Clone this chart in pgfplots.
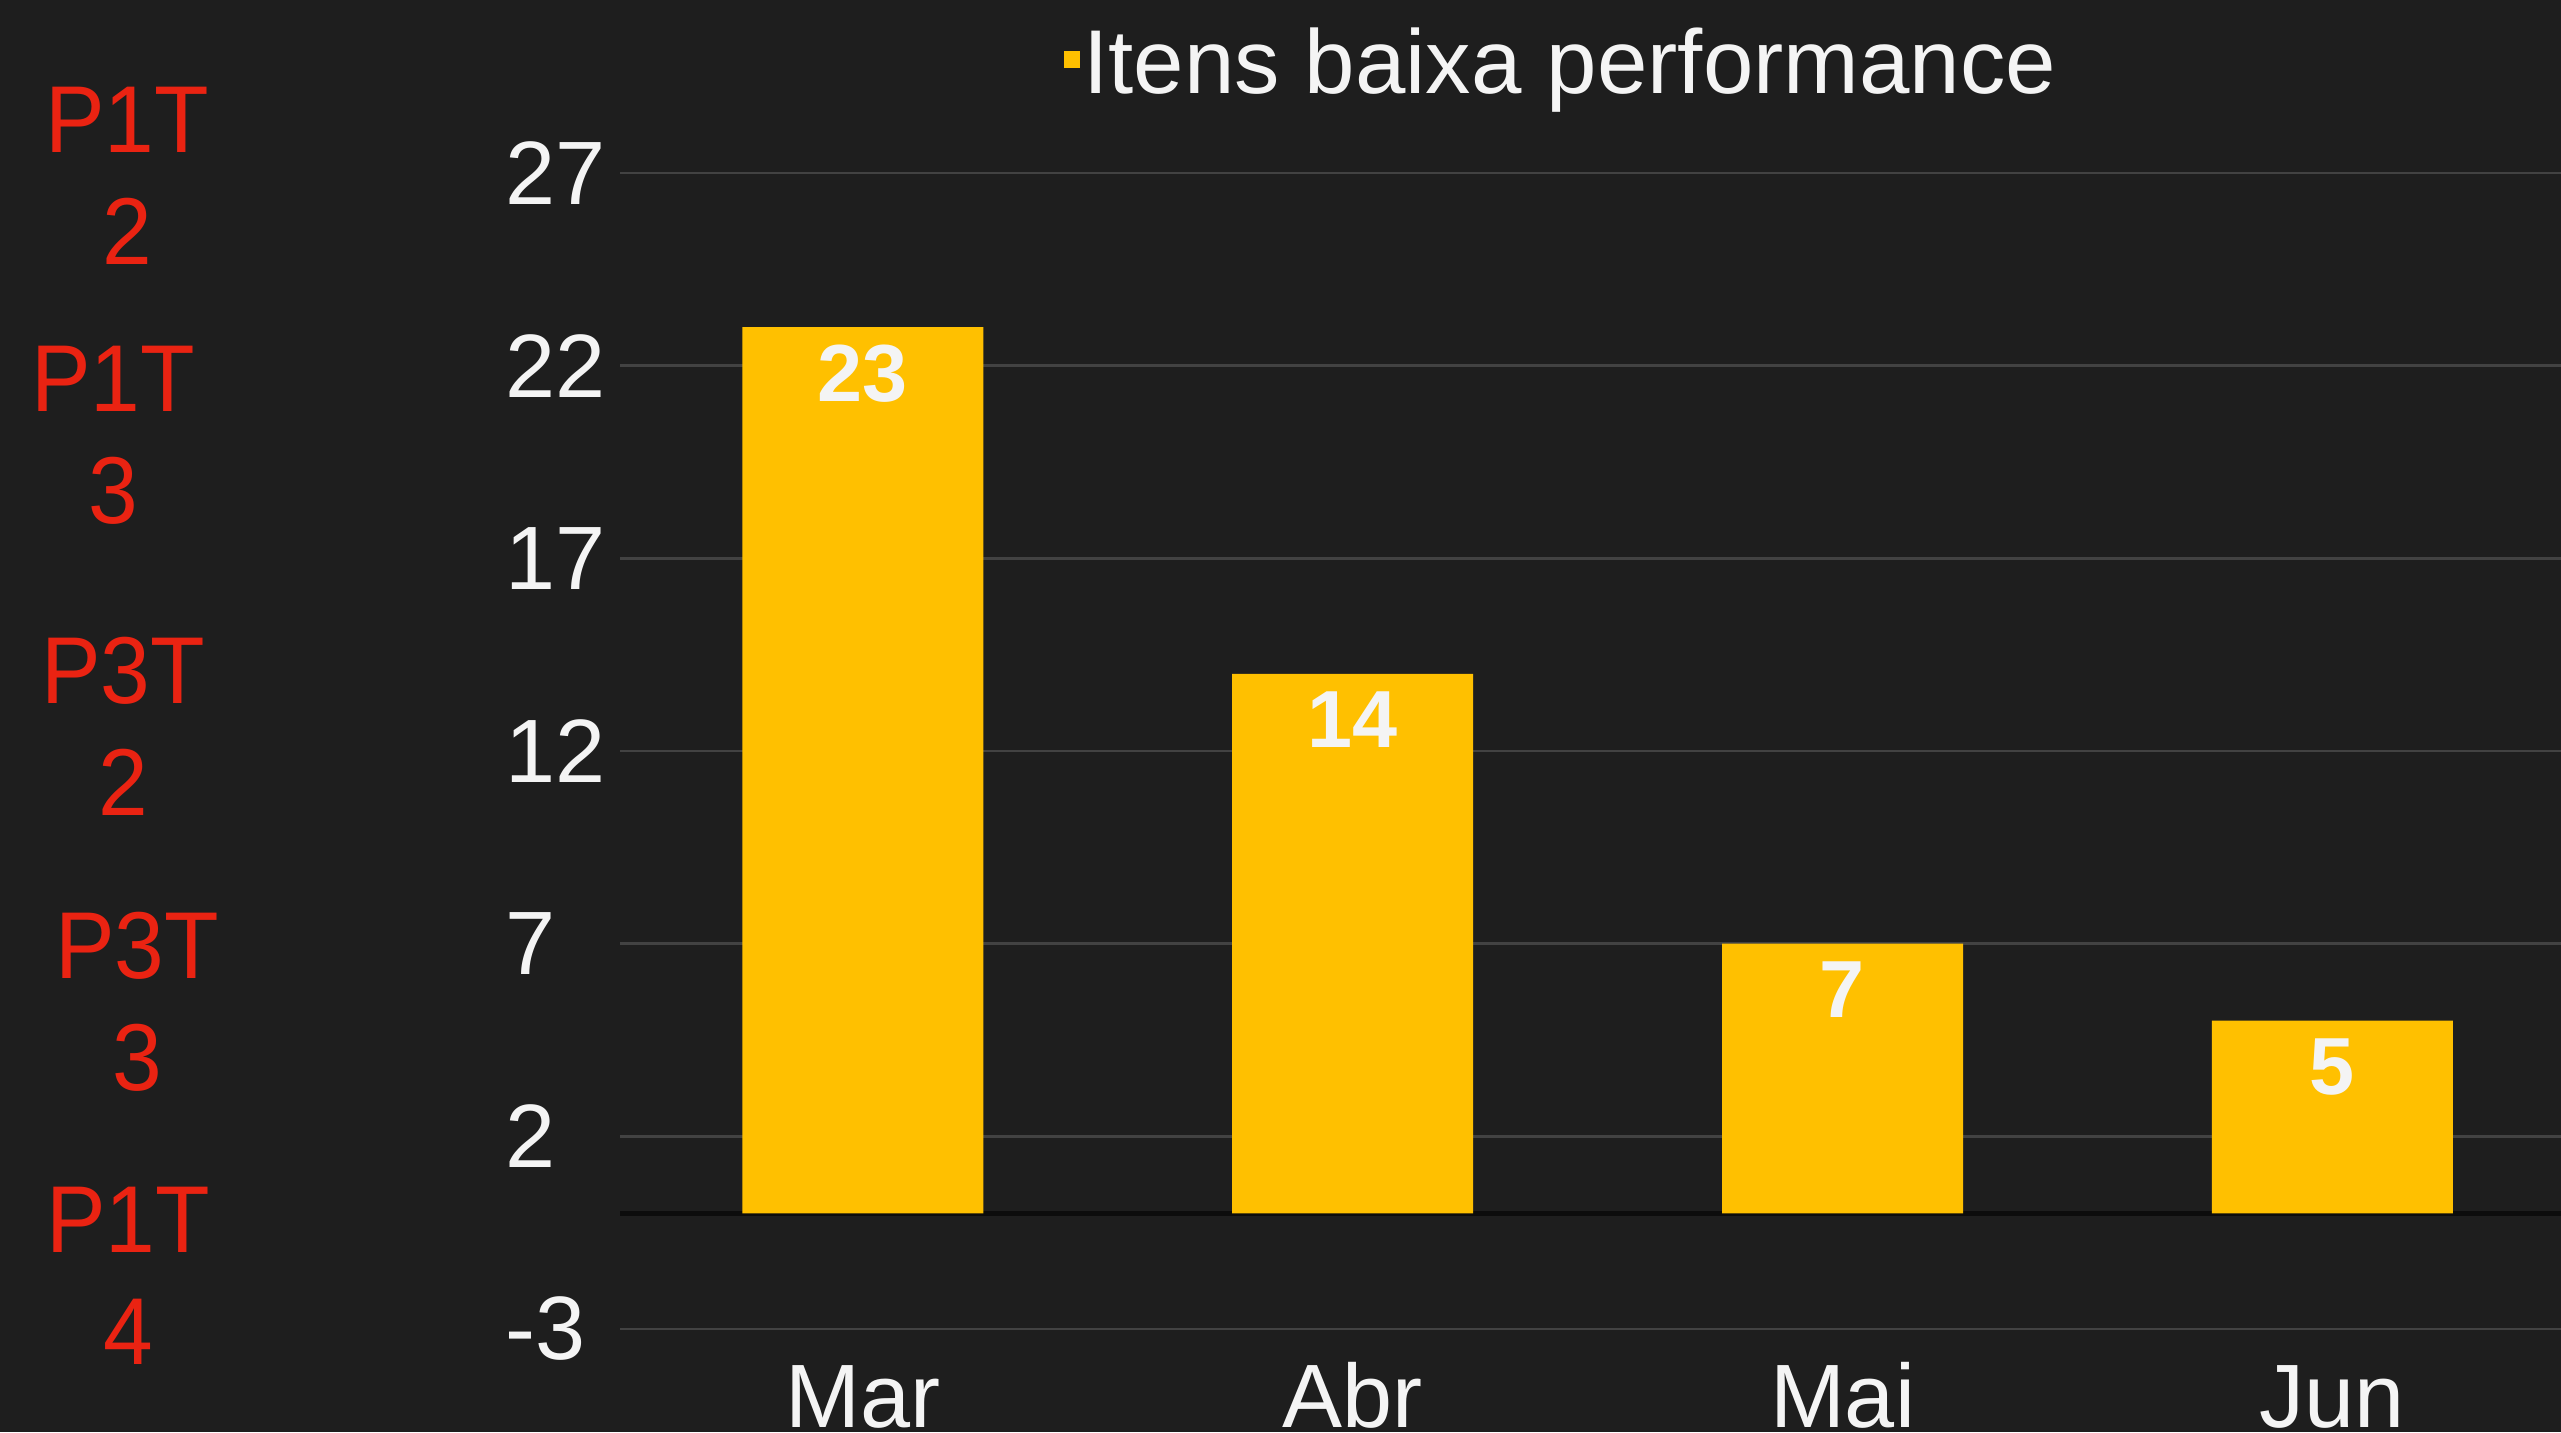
\documentclass[border=0pt]{standalone}
\usepackage{pgfplots}
\pgfplotsset{compat=1.18}
\usepackage{fontspec}
\setmainfont{Liberation Sans}
\newfontfamily\redfont{Liberation Sans}[FakeStretch=0.94]
\definecolor{bg}{HTML}{1E1E1E}
\definecolor{gold}{HTML}{FFC000}
\definecolor{gridc}{HTML}{424242}
\definecolor{zeroc}{HTML}{0C0C0C}
\definecolor{redlab}{HTML}{EA2312}
\definecolor{txt}{HTML}{F4F4F4}
\begin{document}
\begin{tikzpicture}
\useasboundingbox (0,0) rectangle (768.3pt,429.6pt);
\fill[bg] (0,0) rectangle (768.3pt,429.6pt);
\begin{axis}[
  at={(186pt,30.9pt)}, anchor=south west,
  scale only axis, width=582.3pt, height=346.8pt,
  xmin=-0.496, xmax=3.467, ymin=-3, ymax=27,
  ybar, bar width=0.492, bar shift=0pt,
  xtick={0,1,2,3}, xticklabels={Mar,Abr,Mai,Jun},
  ytick={-3,2,7,12,17,22,27},
  extra y ticks={0}, extra y tick labels={},
  extra y tick style={major grid style={zeroc, line width=1.6pt}},
  ymajorgrids, major grid style={gridc, line width=0.8pt},
  axis line style={draw=none}, major tick length=0pt,
  tick style={draw=none},
  /pgf/number format/assume math mode=true,
  ticklabel style={font=\fontsize{27}{27}\selectfont, text=txt, inner sep=0pt},
  yticklabel style={anchor=west, xshift=-34.5pt},
  xticklabel style={anchor=base, yshift=-29.4pt},
  title={\textcolor{gold}{\rule[7.5pt]{5pt}{5pt}}\hspace{0.9pt}Itens baixa performance},
  title style={at={(0.2282,1.0519)}, anchor=base west, inner sep=0pt, text=txt, font=\fontsize{27.2}{27.2}\selectfont},
  nodes near coords,
  nodes near coords style={anchor=north, inner sep=0pt, yshift=-5.1pt, text=txt, font=\bfseries\fontsize{24.3}{24.3}\selectfont},
]
\addplot[fill=gold, draw=none] coordinates {(0,23) (1,14) (2,7) (3,5)};
\end{axis}
\tikzset{redl/.style={anchor=north, inner sep=0pt, align=center, text=redlab, font=\redfont\fontsize{28.5}{33.6}\selectfont}}
\node[redl] at (38.1pt,403.8pt) {P1T\\2};
\node[redl] at (33.9pt,326.1pt) {P1T\\3};
\node[redl] at (36.9pt,238.8pt) {P3T\\2};
\node[redl] at (41.1pt,156.3pt) {P3T\\3};
\node[redl] at (38.4pt,73.8pt) {P1T\\4};
\end{tikzpicture}
\end{document}
